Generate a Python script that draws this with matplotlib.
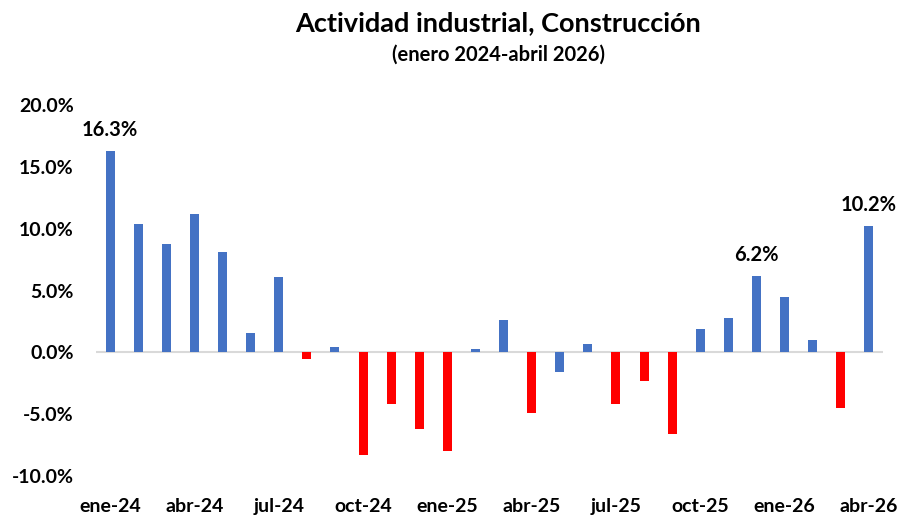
import numpy as np
import matplotlib.pyplot as plt

months = ["ene-24", "feb-24", "mar-24", "abr-24", "may-24", "jun-24", "jul-24",
          "ago-24", "sep-24", "oct-24", "nov-24", "dic-24",
          "ene-25", "feb-25", "mar-25", "abr-25", "may-25", "jun-25", "jul-25",
          "ago-25", "sep-25", "oct-25", "nov-25", "dic-25",
          "ene-26", "feb-26", "mar-26", "abr-26"]
values = [16.3, 10.4, 8.8, 11.2, 8.1, 1.6, 6.1, -0.5, 0.4, -8.3, -4.2, -6.2,
          -8.0, 0.3, 2.6, -4.9, -1.6, 0.7, -4.2, -2.3, -6.6, 1.9, 2.8, 6.2,
          4.5, 1.0, -4.5, 10.2]
# bar colours as in the source (may-25 is blue despite being negative)
is_red = [0, 0, 0, 0, 0, 0, 0, 1, 0, 1, 1, 1,
          1, 0, 0, 1, 0, 0, 1, 1, 1, 0, 0, 0,
          0, 0, 1, 0]
labeled = ["ene-24", "dic-25", "abr-26"]

plt.rcParams['font.family'] = ['Lato', 'DejaVu Sans']
plt.rcParams['font.weight'] = 'bold'

fig = plt.figure(figsize=(9.06, 5.31), dpi=100)
ax = fig.add_axes([96/906, 55/531, 787/906, 371/531])

x = np.arange(len(months))
cols = ['#FF0000' if r else '#4472C4' for r in is_red]
ax.bar(x, values, width=0.32, color=cols, zorder=2)
ax.axhline(0, color='#D9D9D9', lw=1.5, zorder=1)

for m in labeled:
    i = months.index(m)
    ax.annotate(f"{values[i]:.1f}%", (x[i], values[i]), xytext=(0, 15),
                textcoords='offset points', ha='center', va='center',
                fontsize=14.5, fontweight='bold')

ax.set_xlim(-0.5, len(months) - 0.5)
ax.set_ylim(-10, 20)
ax.set_yticks(np.arange(-10, 21, 5))
ax.set_yticklabels([f"{v:.1f}%" for v in np.arange(-10, 21, 5)])
ax.set_xticks(x[::3])
ax.set_xticklabels(months[::3])
ax.tick_params(length=0, labelsize=14)
ax.tick_params(axis='x', pad=16)
ax.tick_params(axis='y', pad=16)
for s in ax.spines.values():
    s.set_visible(False)

fig.text(0.55, 1 - 23/531, "Actividad industrial, Construcción", ha='center',
         va='center', fontsize=19.5, fontweight='bold')
fig.text(0.55, 1 - 55/531, "(enero 2024-abril 2026)", ha='center',
         va='center', fontsize=14.5, fontweight='bold')

fig.savefig("out.png", dpi=100)
